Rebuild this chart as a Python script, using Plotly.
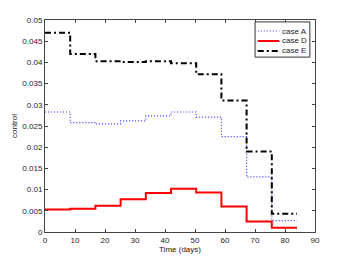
import plotly.graph_objects as go

edges = [0, 8.4, 16.8, 25.2, 33.6, 42, 50.4, 58.8, 67.2, 75.6, 84]
case_a = [0.0283, 0.0258, 0.0255, 0.0262, 0.0274, 0.0283, 0.0271, 0.0225, 0.0130, 0.0027]
case_d = [0.0053, 0.0055, 0.0062, 0.0077, 0.0092, 0.0102, 0.0093, 0.0060, 0.0025, 0.0010]
case_e = [0.0470, 0.0420, 0.0403, 0.0401, 0.0403, 0.0398, 0.0372, 0.0310, 0.0190, 0.0043]
names = ["case A", "case D", "case E"]

styles = [
    dict(color="#3333ff", width=1.2, dash="1px,2px"),
    dict(color="#ff0000", width=2),
    dict(color="#000000", width=2, dash="6px,3px,2px,3px"),
]

def stairs(vals):
    xs, ys = [], []
    for i, v in enumerate(vals):
        xs += [edges[i], edges[i + 1]]
        ys += [v, v]
    return xs, ys

fig = go.Figure()
for vals, name, st in zip([case_a, case_d, case_e], names, styles):
    xs, ys = stairs(vals)
    fig.add_trace(go.Scatter(x=xs, y=ys, mode="lines", name=name, line=st, showlegend=False))

# compact MATLAB-style legend
fig.add_shape(type="rect", xref="paper", yref="paper", x0=0.778, x1=0.981, y0=0.825, y1=0.991,
              line=dict(color="#333", width=1), fillcolor="white", layer="above")
legend_y = [0.948, 0.901, 0.854]
for name, st, ly in zip(names, styles, legend_y):
    fig.add_shape(type="line", xref="paper", yref="paper", x0=0.788, x1=0.868, y0=ly, y1=ly,
                  line=st, layer="above")
    fig.add_annotation(x=0.874, y=ly, xref="paper", yref="paper", text=name, showarrow=False,
                       xanchor="left", yanchor="middle", borderpad=0,
                       font=dict(size=8, color="#222"))

axis_common = dict(showgrid=False, zeroline=False, showline=True, linecolor="#444",
                   linewidth=1, mirror="ticks", ticks="inside", ticklen=3,
                   tickcolor="#444", tickfont=dict(size=8, color="#222"),
                   automargin=False)
fig.update_layout(
    width=340, height=253,
    margin=dict(l=37, r=33, t=12, b=29),
    paper_bgcolor="white", plot_bgcolor="white",
    font=dict(family="Liberation Sans, Arial, sans-serif", size=8, color="#222"),
    xaxis=dict(range=[0, 90], tickvals=list(range(0, 91, 10)),
               title=dict(text="Time (days)", font=dict(size=8), standoff=1), **axis_common),
    yaxis=dict(range=[0, 0.05], tickvals=[0, 0.005, 0.01, 0.015, 0.02, 0.025, 0.03, 0.035, 0.04, 0.045, 0.05],
               ticktext=["0", "0.005", "0.01", "0.015", "0.02", "0.025", "0.03", "0.035", "0.04", "0.045", "0.05"],
               title=dict(text="control", font=dict(size=8), standoff=3), **axis_common),
    showlegend=False,
)
fig.write_html("out.html")
